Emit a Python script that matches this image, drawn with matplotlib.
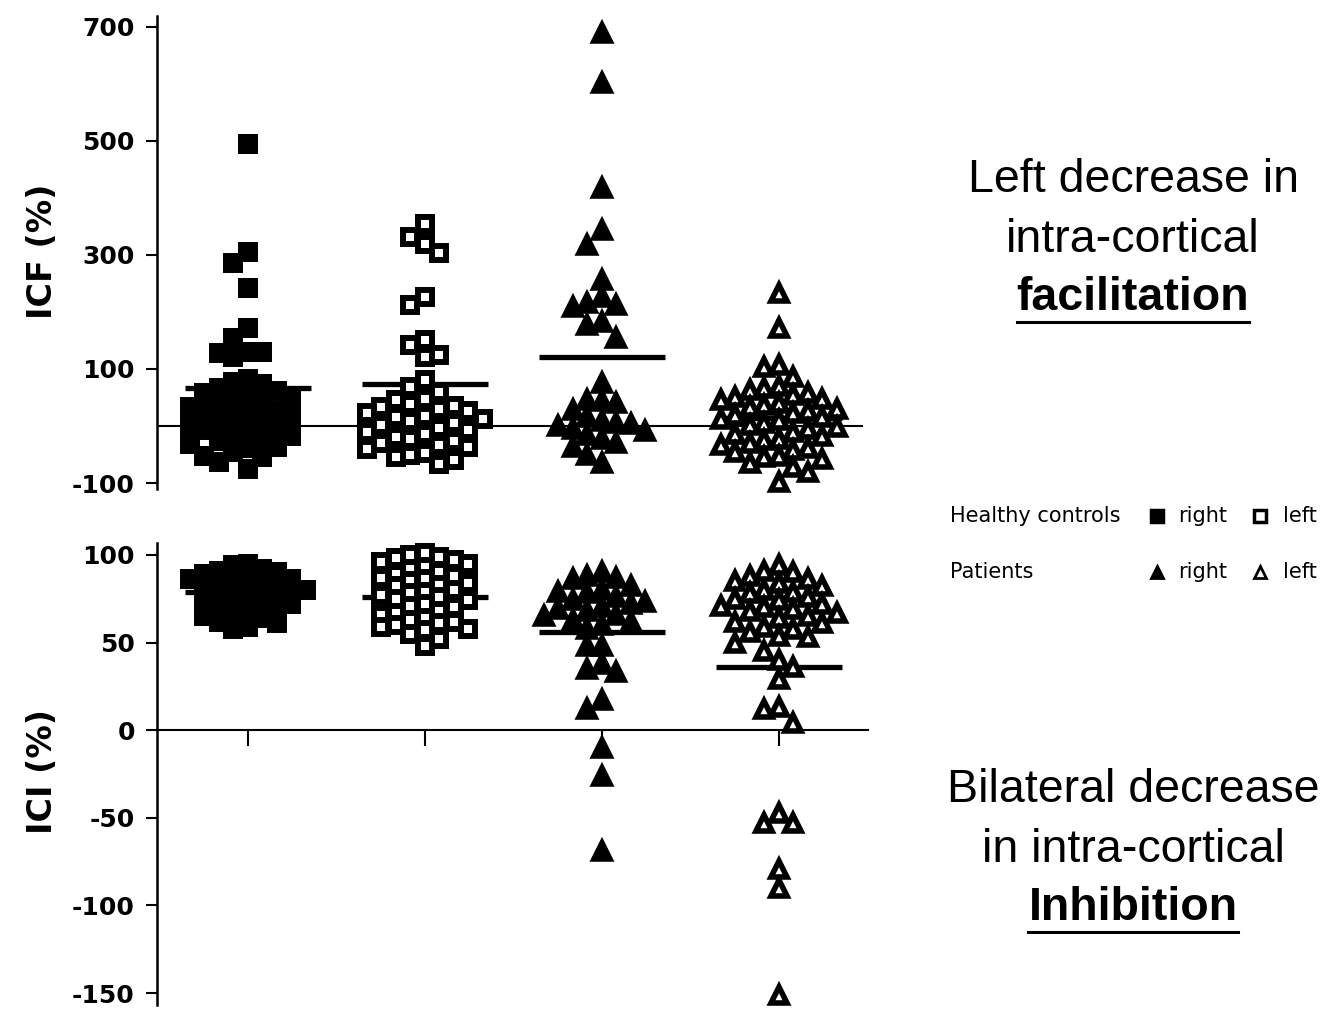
import numpy as np
import matplotlib
matplotlib.use("Agg")
import matplotlib.pyplot as plt
from matplotlib.lines import Line2D

# ---- data -------------------------------------------------------------
groups = ["Healthy controls right", "Healthy controls left", "Patients right", "Patients left"]
group_x = [1, 2, 3, 4]

icf_hc_right = [494, 305, 285, 242, 172, 154, 130, 128, 121, 130,
                82, 77, 74, 66, 61, 58, 51, 49, 43, 41, 35, 33, 27, 24, 21,
                15, 14, 8, 4, 1, -3, -7, -9, -15, -17, -24, -26, -31, -36,
                -39, -46, -52, -55, -63, -76]
icf_hc_left = [355, 320, 303, 331, 212, 226, 150, 124, 121, 142, 80, 68, 60,
               48, 45, 38, 35, 33, 30, 26, 22, 18, 15, 12, 8, 5, 2, -3, -7,
               -10, -14, -19, -22, -27, -30, -33, -36, -41, -47, -51, -54,
               -60, -66]
icf_pt_right = [690, 602, 417, 343, 317, 256, 215, 208, 226, 212, 177, 182,
                154, 75, 46, 44, 40, 28, 16, 8, 5, 3, 0, -5, -8,
                -15, -22, -30, -37, -51, -65]
icf_pt_left = [233, 172, 107, 103, 86, 70, 66, 63, 58, 55, 51, 47, 45, 40,
               36, 33, 30, 26, 22, 20, 15, 12, 10, 5, 2, -2, -5, -10, -14,
               -18, -22, -25, -30, -34, -38, -42, -45, -52, -55, -58, -65,
               -72, -80, -98]

ici_hc_right = [95, 94, 92, 91, 90, 89, 88, 87, 86, 86, 85, 84, 83, 82, 81,
                80, 80, 79, 78, 77, 76, 75, 74, 73, 72, 71, 70, 68, 67, 66,
                65, 64, 62, 61, 59, 58]
ici_hc_left = [101, 100, 99, 98, 97, 96, 95, 93, 92, 90, 89, 88, 87, 86, 85,
               84, 83, 82, 80, 79, 78, 77, 76, 75, 74, 72, 71, 70, 68, 67,
               66, 64, 63, 62, 61, 60, 59, 58, 57, 55, 52, 48]
ici_pt_right = [90, 88, 87, 86, 82, 80, 79, 78, 76, 74, 73, 72, 70, 69, 68,
                66, 65, 63, 62, 60, 58, 48, 48, 38, 35, 33, 17, 12, -10, -26,
                -69]
ici_pt_left = [94, 91, 90, 88, 86, 85, 84, 82, 80, 79, 78, 76, 75, 74, 72,
               71, 70, 69, 68, 67, 65, 64, 62, 61, 59, 58, 56, 54, 53, 50,
               45, 40, 36, 29, 13, 12, 4, -47, -53, -53, -79, -90, -151]

icf_means = [66, 73, 121, 14]
ici_means = [79, 76, 56, 36]

icf_ticks = [-100, 100, 300, 500, 700]
ici_ticks = [-150, -100, -50, 0, 50, 100]

# ---- styling ----------------------------------------------------------
W, H = 1323, 1011
markers = ["s", "s", "^", "^"]
faces = ["black", "white", "black", "white"]
msize = {"s": 10.0, "^": 11.5}
medge = {"s": 4.3, "^": 4.0}
row_height = {("top", "s"): 16, ("top", "^"): 17,
              ("bottom", "s"): 12, ("bottom", "^"): 17}
tick_font = dict(family="DejaVu Sans", weight="bold", size=18)


def fx(px):
    return px / W


def fy(py):
    return 1 - py / H


def swarm_offsets(ax, x0, values, row_h, step=14.5, sep_x=14.0):
    """Spread points sideways on a fixed grid so markers do not pile up."""
    p0 = ax.transData.transform((x0, 0.0))
    p1 = ax.transData.transform((x0 + 1.0, 1.0))
    sx, sy = p1[0] - p0[0], p1[1] - p0[1]
    ys = np.asarray(values, dtype=float) * sy
    order = np.argsort(-ys, kind="stable")
    placed = []
    offs = np.zeros(len(ys))
    cands = [0.0]
    for k in range(1, 30):
        cands += [-k * step, k * step]
    for i in order:
        y = ys[i]
        for dx in cands:
            if all(abs(dx - px) >= sep_x or abs(y - py) >= row_h
                   for (px, py) in placed):
                break
        offs[i] = dx / sx
        placed.append((dx, y))
    return offs


def draw_group(ax, x0, values, marker, face, mean, row_h):
    ax.hlines(mean, x0 - 0.355, x0 + 0.355, colors="black", lw=3.8, zorder=2)
    offs = swarm_offsets(ax, x0, values, row_h)
    for v, o in zip(values, offs):
        ax.plot(x0 + o, v, ls="none", marker=marker, ms=msize[marker],
                mfc=face, mec="black", mew=medge[marker], clip_on=False,
                zorder=3)


fig = plt.figure(figsize=(W / 100, H / 100), dpi=100)
ax1 = fig.add_axes([fx(157), fy(489), (868 - 157) / W, (489 - 16) / H])
ax2 = fig.add_axes([fx(157), fy(1005), (868 - 157) / W, (1005 - 543) / H])

xlim = (0.486, 4.503)

# upper panel: ICF
ax1.set_xlim(*xlim)
ax1.set_ylim(-110.5, 719)
for s in ("top", "right", "bottom"):
    ax1.spines[s].set_visible(False)
ax1.spines["left"].set_linewidth(1.8)
ax1.set_xticks([])
ax1.set_yticks(icf_ticks)
ax1.set_yticklabels([str(t) for t in icf_ticks], fontdict=tick_font)
ax1.tick_params(axis="y", direction="out", length=8, width=1.5, pad=8)
ax1.axhline(0, xmin=0, xmax=(862 - 157) / (868 - 157), color="black",
            lw=1.5, zorder=1)

# lower panel: ICI
ax2.set_xlim(*xlim)
ax2.set_ylim(-156.8, 106.8)
for s in ("top", "right"):
    ax2.spines[s].set_visible(False)
ax2.spines["left"].set_linewidth(1.8)
ax2.spines["bottom"].set_position(("data", 0))
ax2.spines["bottom"].set_linewidth(1.5)
ax2.spines["bottom"].set_zorder(1)
ax2.set_xticks(group_x)
ax2.set_xticklabels([""] * 4)
ax2.tick_params(axis="x", direction="out", length=11.5, width=1.5)
ax2.set_yticks(ici_ticks)
ax2.set_yticklabels([str(t) for t in ici_ticks], fontdict=tick_font)
ax2.tick_params(axis="y", direction="out", length=8, width=1.5, pad=8)

icf_data = [icf_hc_right, icf_hc_left, icf_pt_right, icf_pt_left]
ici_data = [ici_hc_right, ici_hc_left, ici_pt_right, ici_pt_left]
for i in range(4):
    draw_group(ax1, group_x[i], icf_data[i], markers[i], faces[i],
               icf_means[i], row_h=row_height[("top", markers[i])])
    draw_group(ax2, group_x[i], ici_data[i], markers[i], faces[i],
               ici_means[i], row_h=row_height[("bottom", markers[i])])

# axis titles
fig.text(fx(42), fy(251), "ICF (%)", rotation=90, ha="center", va="center",
         family="DejaVu Sans", weight="bold", size=24)
fig.text(fx(42), fy(772), "ICI (%)", rotation=90, ha="center", va="center",
         family="DejaVu Sans", weight="bold", size=24)

# key
key_font = dict(family="DejaVu Sans", size=15, color="black")
fig.text(fx(950), fy(522), "Healthy controls", va="baseline", **key_font)
fig.text(fx(950), fy(578), "Patients", va="baseline", **key_font)
for yb, ym, mk, ms_, mw in ((522, 516, "s", 8.3, 2.5), (578, 572, "^", 8.0, 2.0)):
    fig.add_artist(Line2D([fx(1157)], [fy(ym)], ls="none", marker=mk, ms=ms_,
                          mfc="black", mec="black", mew=mw))
    fig.add_artist(Line2D([fx(1260)], [fy(ym)], ls="none", marker=mk, ms=ms_,
                          mfc="white", mec="black", mew=mw))
    fig.text(fx(1178), fy(yb), "right", va="baseline", **key_font)
    fig.text(fx(1283), fy(yb), "left", va="baseline", **key_font)

# side notes
note_font = dict(family="Liberation Sans", size=33.5, color="black")
underlined = []
for lines, baselines in (
        (["Left decrease in", "intra-cortical", "facilitation"], [192, 252, 310]),
        (["Bilateral decrease", "in intra-cortical", "Inhibition"], [802, 862, 920])):
    for j, (txt, yb) in enumerate(zip(lines, baselines)):
        bold = j == 2
        t = fig.text(fx(1133), fy(yb), txt, ha="center", va="baseline",
                     weight="bold" if bold else "normal", **note_font)
        if bold:
            underlined.append((t, yb))

fig.canvas.draw()
renderer = fig.canvas.get_renderer()
for t, yb in underlined:
    bb = t.get_window_extent(renderer)
    fig.add_artist(Line2D([bb.x0 / W, bb.x1 / W], [fy(yb + 12), fy(yb + 12)],
                          color="black", lw=2.2))

fig.savefig("out.png", dpi=100)
